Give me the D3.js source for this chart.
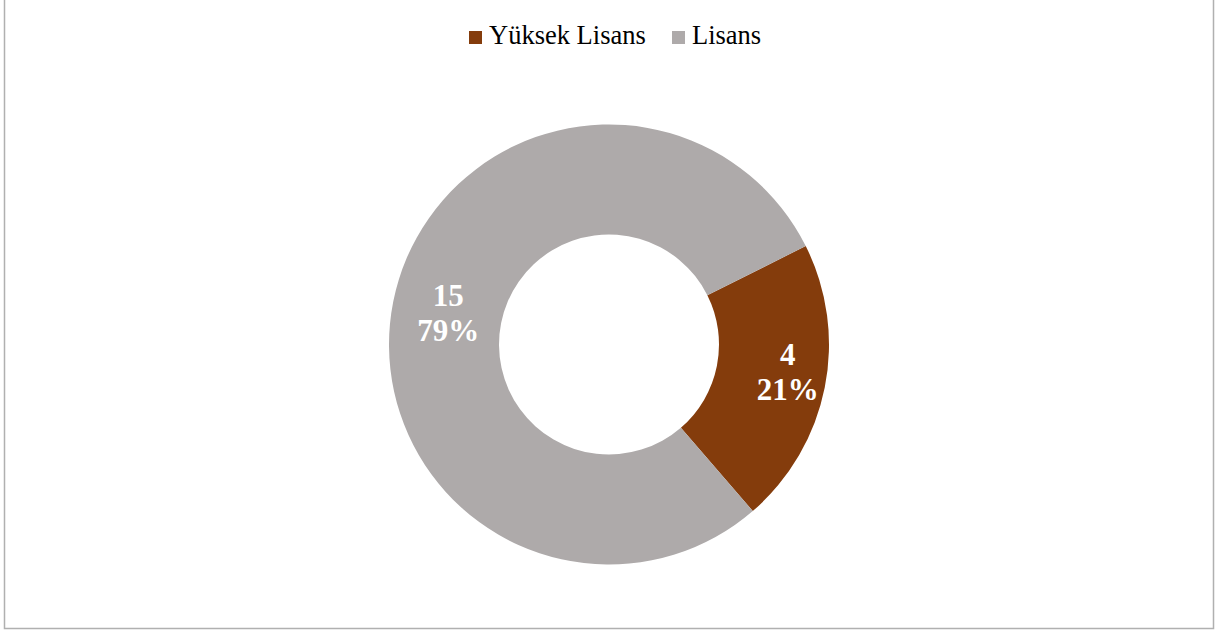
<!DOCTYPE html>
<html>
<head>
<meta charset="utf-8">
<script src="https://cdn.jsdelivr.net/npm/d3@7"></script>
<style>
  body { margin: 0; background: #fff; }
  svg { display: block; }
  text { font-family: "Liberation Serif", "Times New Roman", Times, serif; }
</style>
</head>
<body>
<div id="chart"></div>
<script>
// Data
const categories = ["Yüksek Lisans", "Lisans"];
const values = [4, 15];
const colors = ["#843C0C", "#AEAAAA"];

const width = 1215;
const height = 630;

const svg = d3.select("#chart")
  .append("svg")
  .attr("width", width)
  .attr("height", height);

// Chart frame (left, right, bottom; no top edge visible)
svg.append("path")
  .attr("d", "M4.5,0 V628.5 H1213.5 V0")
  .attr("fill", "none")
  .attr("stroke", "#b0b0b0")
  .attr("stroke-width", 1.5);

// Donut
const cx = 609, cy = 344.5;
const outerR = 220, innerR = 110;
const total = d3.sum(values);
const startAngle = 63.4 * Math.PI / 180;

const pie = d3.pie()
  .sort(null)
  .startAngle(startAngle)
  .endAngle(startAngle + 2 * Math.PI);

const arc = d3.arc().innerRadius(innerR).outerRadius(outerR);

const g = svg.append("g").attr("transform", `translate(${cx},${cy})`);
const arcs = pie(values);

g.selectAll("path")
  .data(arcs)
  .enter().append("path")
  .attr("d", arc)
  .attr("fill", (d, i) => colors[i]);

// Labels: placed at the ring centroid, nudged like Excel does
const nudge = [[17, -5], [1, 1]];
const label = g.selectAll("text.lbl")
  .data(arcs)
  .enter().append("text")
  .attr("class", "lbl")
  .attr("transform", (d, i) => {
    const c = arc.centroid(d);
    return `translate(${c[0] + nudge[i][0]},${c[1] + nudge[i][1]})`;
  })
  .attr("text-anchor", "middle")
  .attr("font-weight", "bold")
  .attr("font-size", "31px")
  .attr("fill", "#fff");

label.append("tspan")
  .attr("x", 0).attr("y", -7)
  .text(d => d.data);
label.append("tspan")
  .attr("x", 0).attr("y", 28)
  .text(d => Math.round(d.data / total * 100) + "%");

// Legend
const legend = svg.append("g")
  .attr("font-size", "26.5px");

const legendX = [469, 672];
const items = legend.selectAll("g")
  .data(categories)
  .enter().append("g")
  .attr("transform", (d, i) => `translate(${legendX[i]},30)`);

items.append("rect")
  .attr("width", 13).attr("height", 13)
  .attr("y", 1)
  .attr("fill", (d, i) => colors[i]);

items.append("text")
  .attr("x", 20).attr("y", 14)
  .attr("fill", "#000")
  .text(d => d);
</script>
</body>
</html>
